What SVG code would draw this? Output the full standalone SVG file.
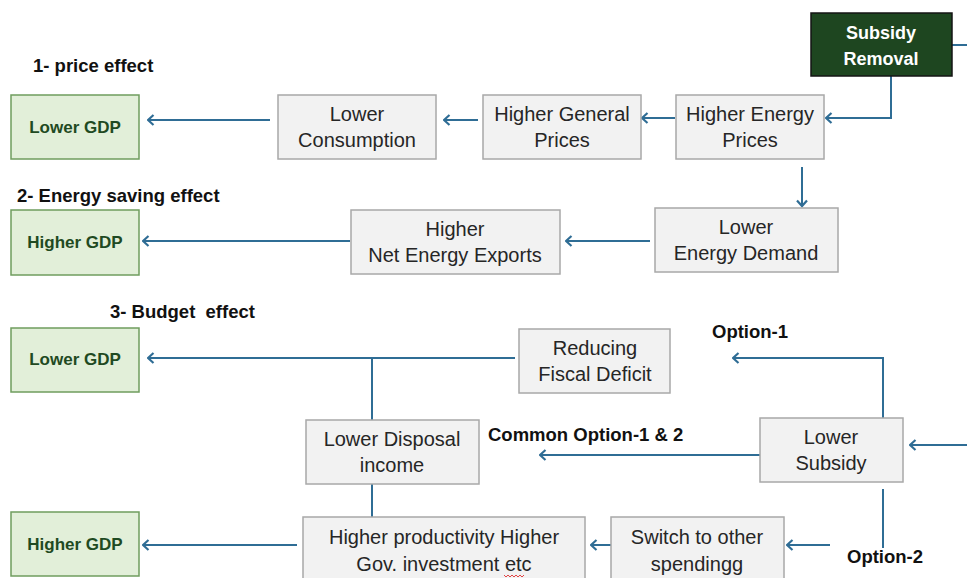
<svg xmlns="http://www.w3.org/2000/svg" width="967" height="578" viewBox="0 0 967 578">
<defs>
<marker id="ah" viewBox="0 0 12 12" refX="10.5" refY="6" markerWidth="12" markerHeight="12" markerUnits="userSpaceOnUse" orient="auto-start-reverse">
<path d="M5,1 L10.5,6 L5,11" fill="none" stroke="#2f6d95" stroke-width="2.2"/>
</marker>
<style>
.gbox{fill:#f2f2f2;stroke:#a8a8a8;stroke-width:1.5}
.green{fill:#e2efd9;stroke:#6f9d5e;stroke-width:1.5}
.dark{fill:#1e4620;stroke:#151515;stroke-width:1.5}
.t{font-family:"Liberation Sans",Arial,sans-serif;font-size:20px;fill:#262626;text-anchor:middle}
.gt{font-family:"Liberation Sans",Arial,sans-serif;font-size:17px;font-weight:bold;fill:#1f4a22;text-anchor:middle}
.wt{font-family:"Liberation Sans",Arial,sans-serif;font-size:18px;font-weight:bold;fill:#ffffff;text-anchor:middle}
.lb{font-family:"Liberation Sans",Arial,sans-serif;font-size:18.5px;font-weight:bold;fill:#111111}
.c{fill:none;stroke:#2f6d95;stroke-width:2}
.a{marker-start:url(#ah)}
</style>
</defs>
<rect width="967" height="578" fill="#ffffff"/>

<g id="labels">
<text class="lb" x="33" y="72">1- price effect</text>
<text class="lb" x="17" y="202">2- Energy saving effect</text>
<text class="lb" x="110" y="318" xml:space="preserve">3- Budget  effect</text>
<text class="lb" x="712" y="338">Option-1</text>
<text class="lb" x="488" y="441">Common Option-1 &amp; 2</text>
<text class="lb" x="847" y="563">Option-2</text>
</g>

<g id="connectors">
<path class="c" d="M952,45 L967,45"/>
<path class="c a" d="M826,118 L891,118 L891,76"/>
<path class="c a" d="M148,120 L270,120"/>
<path class="c a" d="M444,120 L478,120"/>
<path class="c a" d="M642,118 L675,118"/>
<path class="c a" d="M802,206 L802,167"/>
<path class="c a" d="M566,241 L650,241"/>
<path class="c a" d="M143,241 L350,241"/>
<path class="c a" d="M148,358 L515,358"/>
<path class="c" d="M372,358 L372,420"/>
<path class="c a" d="M733,358 L883,358 L883,418"/>
<path class="c a" d="M910,445 L967,445"/>
<path class="c a" d="M540,455 L760,455"/>
<path class="c" d="M372,484 L372,517"/>
<path class="c" d="M883,489 L883,548"/>
<path class="c a" d="M787,545 L830,545"/>
<path class="c a" d="M591,545 L611,545"/>
<path class="c a" d="M143,545 L297,545"/>
</g>

<g id="subsidy-removal">
<rect class="dark" x="811" y="13" width="141" height="63"/>
<text class="wt" x="881" y="39">Subsidy</text>
<text class="wt" x="881" y="65">Removal</text>
</g>

<g id="lower-gdp-1">
<rect class="green" x="11" y="95" width="128" height="64"/>
<text class="gt" x="75" y="133">Lower GDP</text>
</g>
<g id="lower-consumption">
<rect class="gbox" x="278" y="95" width="158" height="64"/>
<text class="t" x="357" y="121">Lower</text>
<text class="t" x="357" y="147">Consumption</text>
</g>
<g id="higher-general-prices">
<rect class="gbox" x="483" y="95" width="158" height="64"/>
<text class="t" x="562" y="121">Higher General</text>
<text class="t" x="562" y="147">Prices</text>
</g>
<g id="higher-energy-prices">
<rect class="gbox" x="676" y="95" width="148" height="64"/>
<text class="t" x="750" y="121">Higher Energy</text>
<text class="t" x="750" y="147">Prices</text>
</g>

<g id="higher-gdp-2">
<rect class="green" x="11" y="210" width="128" height="65"/>
<text class="gt" x="75" y="248">Higher GDP</text>
</g>
<g id="higher-net-energy-exports">
<rect class="gbox" x="351" y="210" width="209" height="64"/>
<text class="t" x="455" y="236">Higher</text>
<text class="t" x="455" y="262">Net Energy Exports</text>
</g>
<g id="lower-energy-demand">
<rect class="gbox" x="655" y="208" width="183" height="64"/>
<text class="t" x="746" y="234">Lower</text>
<text class="t" x="746" y="260">Energy Demand</text>
</g>

<g id="lower-gdp-3">
<rect class="green" x="11" y="328" width="128" height="64"/>
<text class="gt" x="75" y="365">Lower GDP</text>
</g>
<g id="reducing-fiscal-deficit">
<rect class="gbox" x="519" y="329" width="151" height="64"/>
<text class="t" x="595" y="355">Reducing</text>
<text class="t" x="595" y="381">Fiscal Deficit</text>
</g>
<g id="lower-disposal-income">
<rect class="gbox" x="306" y="420" width="173" height="64"/>
<text class="t" x="392" y="446">Lower Disposal</text>
<text class="t" x="392" y="472">income</text>
</g>
<g id="lower-subsidy">
<rect class="gbox" x="760" y="418" width="143" height="64"/>
<text class="t" x="831" y="444">Lower</text>
<text class="t" x="831" y="470">Subsidy</text>
</g>

<g id="higher-gdp-4">
<rect class="green" x="11" y="512" width="128" height="64"/>
<text class="gt" x="75" y="550">Higher GDP</text>
</g>
<g id="higher-productivity">
<rect class="gbox" x="303" y="517" width="282" height="64"/>
<text class="t" x="444" y="544">Higher productivity Higher</text>
<text class="t" x="444" y="571">Gov. investment etc</text>
<path d="M504,575 l2,2 l2,-2 l2,2 l2,-2 l2,2 l2,-2 l2,2 l2,-2 l2,2 l2,-2" fill="none" stroke="#e03030" stroke-width="0.9"/>
</g>
<g id="switch-to-other-spending">
<rect class="gbox" x="611" y="517" width="173" height="64"/>
<text class="t" x="697" y="544">Switch to other</text>
<text class="t" x="697" y="571">spendingg</text>
</g>
</svg>
